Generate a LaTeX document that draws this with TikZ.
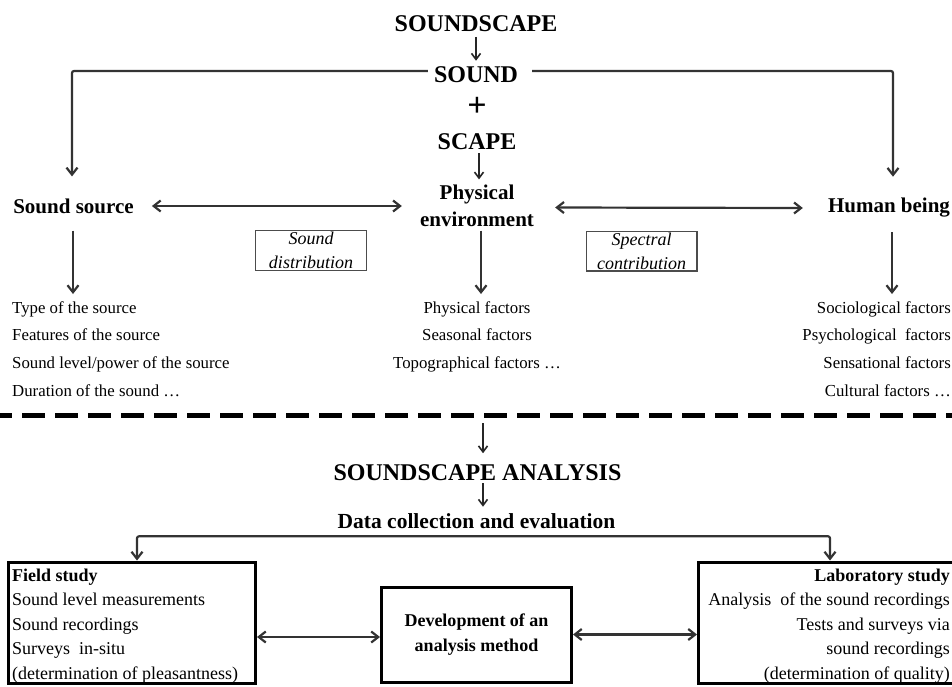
\documentclass[tikz,border=0pt]{standalone}
\usepackage{fontspec}
\setmainfont{Liberation Serif}
\usetikzlibrary{arrows.meta}
\begin{document}
\begin{tikzpicture}[x=1pt,y=-1pt,
  every node/.style={inner sep=0pt, text=black},
  head/.style={font=\fontsize{24}{28}\selectfont\bfseries},
  sub/.style={font=\fontsize{21}{27}\selectfont\bfseries},
  item/.style={font=\fontsize{16.8}{27.7}\selectfont},
  boxtxt/.style={font=\fontsize{18}{24.5}\selectfont},
  note/.style={draw=black!70, line width=1.2pt, minimum width=110.8pt, minimum height=39.8pt,
               align=center, font=\fontsize{18}{24}\selectfont\itshape},
  frame/.style={draw=black, line width=3pt},
  wire/.style={draw=black!80, line width=2.2pt, line join=round},
  arr/.style={wire, -{Straight Barb[length=7pt,width=11pt]}},
  darr/.style={wire, {Straight Barb[length=7pt,width=11pt]}-{Straight Barb[length=7pt,width=11pt]}},
  thinarr/.style={draw=black!85, line width=1.6pt, -{Straight Barb[length=6pt,width=9pt]}},
]
\useasboundingbox (0,0) rectangle (952,686);
\fill[white] (0,0) rectangle (952,686);
\clip (0,0) rectangle (952,686);

% ---------- upper part: the word and its two halves ----------
\node[head] (title) at (476,23.5) {SOUNDSCAPE};
\node[head] (sound) at (476,75) {SOUND};
\node[font=\fontsize{34}{34}\selectfont\bfseries] (plus) at (477,106.5) {+};
\node[head] (scape) at (477,142) {SCAPE};
\node[sub, align=center] (phys) at (477,205.5) {Physical\\environment};
\node[sub] (src) at (73.5,206) {Sound source};
\node[sub] (human) at (889,208) {Human being};

\draw[thinarr, shorten <=5pt, shorten >=6pt] (title.south) -- (sound.north);
\draw[thinarr, shorten <=3pt, shorten >=5pt] ([xshift=2pt]scape.south) -- ([xshift=2pt]scape.south |- phys.north);

\draw[arr, rounded corners=2pt] ([xshift=-6pt,yshift=4pt]sound.west) -| ([xshift=-1.5pt,yshift=22pt]src.north);
\draw[arr, rounded corners=2pt] ([xshift=14pt,yshift=4pt]sound.east) -| ([xshift=4pt,yshift=21.5pt]human.north);

\draw[darr] ([xshift=18pt]src.east) -- ([xshift=-18pt]src.east -| phys.west);
\draw[darr] ([xshift=21pt,yshift=-2pt]phys.east) -- ([xshift=-25pt]human.west);

\node[note] (sdist) at (311,250.5) {Sound\\distribution};
\node[note] (spec) at (641.5,251) {Spectral\\contribution};

% ---------- factor lists ----------
\node[item, align=left, anchor=north west] (srclist) at (12,301)
  {Type of the source\\Features of the source\\Sound level/power of the source\\Duration of the sound \dots};
\node[item, align=center, anchor=north] (physlist) at (477,301)
  {Physical factors\\Seasonal factors\\Topographical factors \dots};
\node[item, align=right, anchor=north east] (humanlist) at (951,301)
  {Sociological factors\\Psychological\ \ factors\\Sensational factors\\Cultural factors \dots};

\draw[arr, shorten >=7pt] ([xshift=-0.5pt,yshift=-17pt]src.south) -- ([xshift=-0.5pt]src.south |- srclist.north);
\draw[arr, shorten >=7pt] ([xshift=4pt,yshift=-4pt]phys.south) -- ([xshift=4pt]phys.south |- physlist.north);
\draw[arr, shorten >=7pt] ([xshift=3pt,yshift=-14.5pt]human.south) -- ([xshift=3pt]human.south |- humanlist.north);

% ---------- separator ----------
\coordinate (sepL) at (0,415);
\coordinate (sepR) at (952,415);
\draw[black, line width=5pt, dash pattern=on 23pt off 10pt, dash phase=11pt] (sepL) -- (sepR);

% ---------- lower part: analysis ----------
\coordinate (tap) at (483,423);
\node[head] (analysis) at (477.5,472.5) {SOUNDSCAPE ANALYSIS};
\node[font=\fontsize{21.5}{25}\selectfont\bfseries] (data) at (476.5,521) {Data collection and evaluation};

\draw[thinarr, shorten >=11pt] (tap) -- (tap |- analysis.north);
\draw[thinarr, shorten <=2.5pt, shorten >=6.5pt] ([xshift=5.5pt]analysis.south) -- ([xshift=5.5pt]analysis.south |- data.north);

\node[frame, minimum width=247pt, minimum height=121pt] (fieldbox) at (132,622.5) {};
\node[frame, minimum width=190pt, minimum height=95pt, align=center,
      font=\fontsize{18}{25}\selectfont\bfseries] (devbox) at (476.5,634.5) {Development of an\\analysis method};
\node[frame, minimum width=255pt, minimum height=121pt] (labbox) at (826,622.5) {};

\node[boxtxt, align=left, anchor=north west] (fieldtext) at (12,568.5)
  {\textbf{Field study}\\Sound level measurements\\Sound recordings\\Surveys\ \ in-situ\\(determination of pleasantness)};
\node[boxtxt, align=right, anchor=north east] (labtext) at (950,568.5)
  {\textbf{Laboratory study}\\Analysis\ \ of the sound recordings\\Tests and surveys via\\sound recordings\\(determination of quality)};

\draw[darr, rounded corners=2pt] ([xshift=5pt]fieldbox.north) |- ([yshift=-7.5pt]data.south) -| ([xshift=4pt]labbox.north);

\draw[darr] ([yshift=-14.5pt]fieldbox.east) -- ([yshift=-14.5pt]fieldbox.east -| devbox.west);
\draw[darr] (devbox.east) -- (devbox.east -| labbox.west);
\end{tikzpicture}
\end{document}
